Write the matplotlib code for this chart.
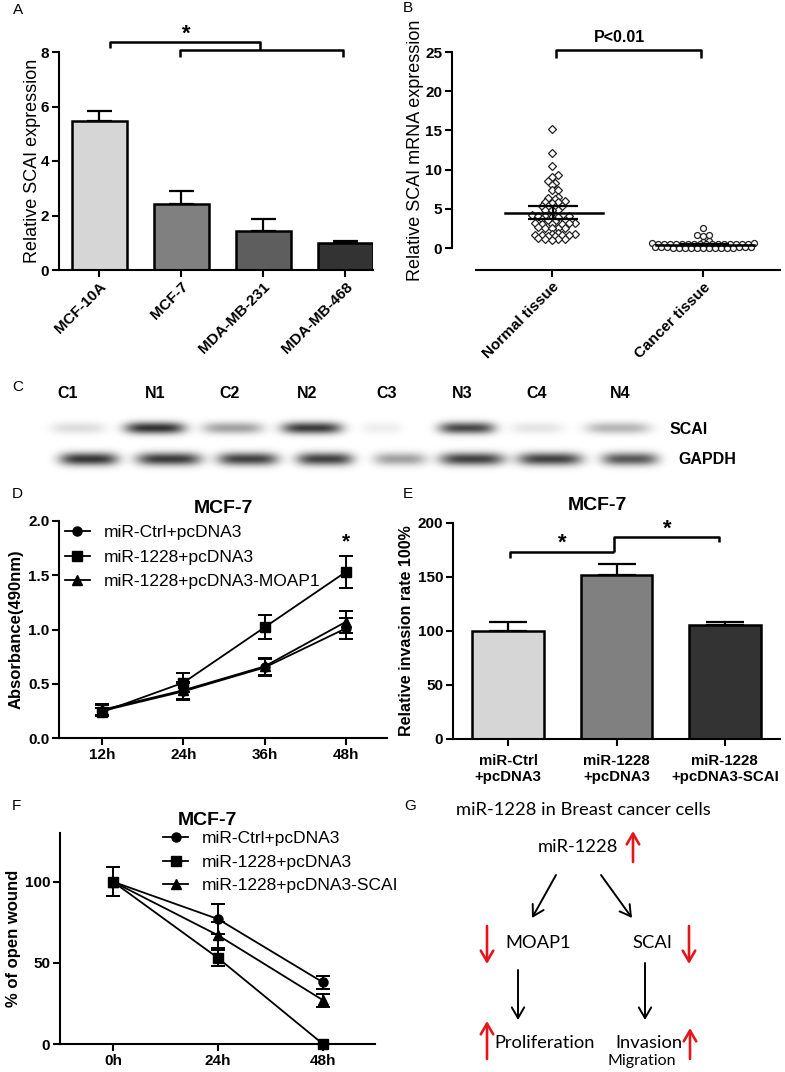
import numpy as np
import matplotlib.pyplot as plt

plt.rcParams['font.family'] = ['Liberation Sans', 'DejaVu Sans']
plt.rcParams['font.weight'] = 'bold'
plt.rcParams['axes.linewidth'] = 1.5

W, H = 785, 1072

# A: SCAI in cell lines
cell_lines = ['MCF-10A', 'MCF-7', 'MDA-MB-231', 'MDA-MB-468']
scai_expr = [5.45, 2.42, 1.43, 0.99]
scai_sem = [0.40, 0.48, 0.43, 0.06]

# B: SCAI mRNA in tissues
tissues = ['Normal tissue', 'Cancer tissue']
normal_tissue = [15.2, 12.1, 10.5, 9.3, 9.1, 8.5, 8.3, 8.0, 7.4, 7.4,
                 6.5, 6.4, 6.2, 6.0, 5.9, 5.9, 5.8, 5.4, 5.3, 5.3,
                 5.2, 4.9, 4.9, 4.8, 4.2, 4.1, 4.1, 4.1, 4.0, 4.0,
                 3.7, 3.6, 3.6, 3.5, 3.2, 3.2, 3.2, 3.1, 3.1, 3.1,
                 2.7, 2.6, 2.6, 2.6, 2.5, 1.9, 1.8, 1.8, 1.6, 1.6,
                 1.6, 1.6, 1.5, 1.5, 1.3, 1.2, 1.2, 1.1, 1.0]
cancer_tissue = [2.6, 1.6, 1.6, 1.5, 0.9, 0.8, 0.7, 0.6,
                 0.5, 0.5, 0.5, 0.5, 0.5, 0.45, 0.45, 0.45, 0.45, 0.45,
                 0.45, 0.45, 0.45, 0.45, 0.45, 0.45,
                 0.1, 0.1, 0.1, 0.1, 0.1, 0.1, 0.05, 0.05, 0.05, 0.05,
                 0.05, 0.05, 0.05, 0.0, 0.0, 0.0, 0.0]
tissue_mean = [4.5, 0.4]
tissue_sem = [0.8, 0.06]

# C: western blot band intensities
blot_lanes = ['C1', 'N1', 'C2', 'N2', 'C3', 'N3', 'C4', 'N4']
scai_band = [0.15, 0.92, 0.42, 0.88, 0.08, 0.82, 0.12, 0.33]
gapdh_band = [0.9, 0.88, 0.85, 0.85, 0.42, 0.85, 0.85, 0.75]

# D: proliferation (MTT)
d_hours = [12, 24, 36, 48]
d_ctrl = [0.25, 0.43, 0.65, 1.01]
d_ctrl_err = [0.05, 0.08, 0.08, 0.10]
d_mir = [0.24, 0.51, 1.02, 1.53]
d_mir_err = [0.04, 0.09, 0.11, 0.15]
d_moap = [0.26, 0.44, 0.66, 1.07]
d_moap_err = [0.05, 0.08, 0.08, 0.10]

# E: invasion
e_groups = ['miR-Ctrl\n+pcDNA3', 'miR-1228\n+pcDNA3', 'miR-1228\n+pcDNA3-SCAI']
e_vals = [100, 152, 106]
e_err = [8, 10, 2.5]

# F: wound healing
f_hours = [0, 24, 48]
f_ctrl = [100, 77, 38]
f_ctrl_err = [9, 9, 4]
f_mir = [100, 53, 0]
f_mir_err = [9, 5, 0]
f_scai = [100, 67, 27]
f_scai_err = [9, 8, 4]

fig = plt.figure(figsize=(W / 100, H / 100), dpi=100)


def px_axes(x0, y0, x1, y1):
    return fig.add_axes([x0 / W, 1 - y1 / H, (x1 - x0) / W, (y1 - y0) / H])


def prism(ax):
    ax.spines['top'].set_visible(False)
    ax.spines['right'].set_visible(False)
    ax.tick_params(width=1.5, length=5, labelsize=11, pad=2)


def swarm(vals, px_per_unit, d):
    # beeswarm on a half-step grid, staggered rows like GraphPad
    order = np.argsort(vals)
    placed = []
    offs = np.zeros(len(vals))
    cands = [0.0]
    for k in range(1, 60):
        cands += [k * d / 2, -k * d / 2]
    for i in order:
        y = vals[i] * px_per_unit
        for c in cands:
            if all((c - px) ** 2 + (y - py) ** 2 >= (0.6 * d) ** 2 for px, py in placed):
                offs[i] = c
                placed.append((c, y))
                break
    return offs


def bracket(ax, x0, x1, y, y0, y1, lw=1.8):
    ax.plot([x0, x0, x1, x1], [y0, y, y, y1], color='k', lw=lw, clip_on=False,
            solid_capstyle='butt')


# ---- A
axA = px_axes(59, 52, 373, 270)
xa = np.arange(len(cell_lines))
axA.bar(xa, scai_expr, width=0.67, color=['#d6d6d6', '#808080', '#5e5e5e', '#333333'],
        edgecolor='k', linewidth=1.8, zorder=2)
axA.errorbar(xa, scai_expr, yerr=[np.zeros(4), scai_sem], fmt='none', ecolor='k',
             elinewidth=1.6, capsize=9, capthick=1.6, zorder=1)
axA.set_xlim(-0.49, 3.34)
axA.set_ylim(0, 8)
axA.set_yticks([0, 2, 4, 6, 8])
prism(axA)
axA.set_xticks(xa)
axA.set_xticklabels(cell_lines, rotation=45, ha='right', rotation_mode='anchor')
axA.set_ylabel('Relative SCAI expression', fontsize=13, fontweight='normal', labelpad=0)
bracket(axA, 0.13, 1.96, 8.37, 8.15, 8.07)
bracket(axA, 0.98, 2.98, 8.07, 7.82, 7.82)
axA.text(1.06, 8.45, '*', ha='center', va='baseline', fontsize=16, clip_on=False)

# ---- B
axB = px_axes(452, 52, 780, 248)
xn = swarm(normal_tissue, 7.84, 6.7) / 151
xc = swarm(cancer_tissue, 7.84, 6.0) / 151
axB.plot(0 + xn, normal_tissue, 'D', ms=4.3, mfc='white', mec='#222222', mew=0.9,
         clip_on=False)
axB.plot(1 + xc, cancer_tissue, 'o', ms=4.3, mfc='white', mec='#222222', mew=0.9,
         clip_on=False)
for i in range(2):
    axB.plot([i - 0.31, i + 0.34], [tissue_mean[i]] * 2, color='k', lw=1.8)
    axB.errorbar([i + 0.01], [tissue_mean[i]], yerr=[tissue_sem[i]], fmt='none',
                 ecolor='k', elinewidth=1.6, capsize=18, capthick=1.6)
axB.set_xlim(-0.66, 1.51)
axB.set_ylim(0, 25)
axB.set_yticks([0, 5, 10, 15, 20, 25])
axB.spines['bottom'].set_position(('outward', 16))
axB.spines['bottom'].set_bounds(-0.5, 1.51)
prism(axB)
axB.set_xticks([0, 1])
axB.set_xticklabels(tissues, rotation=45, ha='right', rotation_mode='anchor')
axB.set_ylabel('Relative SCAI mRNA expression', fontsize=13, fontweight='normal',
               labelpad=1)
bracket(axB, 0.03, 0.99, 25.2, 24.2, 24.2)
axB.text(0.45, 26.3, 'P<0.01', ha='center', va='baseline', fontsize=11.5, clip_on=False)

# ---- D
axD = px_axes(59, 521, 387, 738)
for ys, es, mk, lab in [(d_ctrl, d_ctrl_err, 'o', 'miR-Ctrl+pcDNA3'),
                        (d_mir, d_mir_err, 's', 'miR-1228+pcDNA3'),
                        (d_moap, d_moap_err, '^', 'miR-1228+pcDNA3-MOAP1')]:
    axD.errorbar(d_hours, ys, yerr=es, fmt='none', ecolor='k', elinewidth=1.4,
                 capsize=5, capthick=1.4)
    axD.plot(d_hours, ys, color='k', lw=1.3, marker=mk, ms=6.5, label=lab)
axD.set_xlim(5.6, 54.1)
axD.set_ylim(0, 2.0)
axD.set_xticks(d_hours)
axD.set_xticklabels([f'{h}h' for h in d_hours])
axD.set_yticks([0, 0.5, 1.0, 1.5, 2.0])
axD.set_yticklabels(['0.0', '0.5', '1.0', '1.5', '2.0'])
prism(axD)
axD.set_ylabel('Absorbance(490nm)', fontsize=12, fontweight='bold', labelpad=3)
axD.set_title('MCF-7', fontsize=14, fontweight='bold', pad=6)
axD.legend(loc='upper left', bbox_to_anchor=(0.018, 0.982), frameon=False,
           prop={'weight': 'normal', 'size': 12.5}, handlelength=1.45,
           handletextpad=0.8, labelspacing=0.55, borderpad=0, borderaxespad=0)
axD.text(48, 1.76, '*', ha='center', va='baseline', fontsize=15)

# ---- E
axE = px_axes(453, 523, 780, 739)
xe = np.arange(len(e_groups))
axE.bar(xe, e_vals, width=0.66, color=['#d6d6d6', '#808080', '#333333'],
        edgecolor='k', linewidth=1.8, zorder=2)
axE.errorbar(xe, e_vals, yerr=[np.zeros(3), e_err], fmt='none', ecolor='k',
             elinewidth=1.6, capsize=14, capthick=1.6, zorder=1)
axE.set_xlim(-0.51, 2.51)
axE.set_ylim(0, 200)
axE.set_yticks([0, 50, 100, 150, 200])
prism(axE)
axE.set_xticks(xe)
axE.set_xticklabels(e_groups, fontsize=10.8, linespacing=1.15)
axE.tick_params(axis='x', pad=6)
axE.set_ylabel('Relative invasion rate 100%', fontsize=11.5, fontweight='bold', labelpad=3)
axE.set_title('MCF-7', fontsize=14, fontweight='bold', pad=9, x=0.443)
bracket(axE, 0.02, 0.98, 173, 168, 173)
bracket(axE, 0.98, 1.95, 187, 173, 182)
axE.text(0.5, 176, '*', ha='center', va='baseline', fontsize=16)
axE.text(1.47, 189, '*', ha='center', va='baseline', fontsize=16)

# ---- F
axF = px_axes(60, 833, 375, 1044)
for ys, es, mk, lab in [(f_ctrl, f_ctrl_err, 'o', 'miR-Ctrl+pcDNA3'),
                        (f_mir, f_mir_err, 's', 'miR-1228+pcDNA3'),
                        (f_scai, f_scai_err, '^', 'miR-1228+pcDNA3-SCAI')]:
    axF.errorbar(f_hours, ys, yerr=es, fmt='none', ecolor='k', elinewidth=1.4,
                 capsize=5, capthick=1.4, clip_on=False)
    axF.plot(f_hours, ys, color='k', lw=1.3, marker=mk, ms=6.5, label=lab, clip_on=False)
axF.set_xlim(-12.1, 59.9)
axF.set_ylim(0, 130)
axF.set_xticks(f_hours)
axF.set_xticklabels([f'{h}h' for h in f_hours])
axF.set_yticks([0, 50, 100])
prism(axF)
axF.set_ylabel('% of open wound', fontsize=12, fontweight='bold', labelpad=3)
axF.set_title('MCF-7', fontsize=14, fontweight='bold', pad=6, x=0.467)
axF.legend(loc='upper left', bbox_to_anchor=(0.327, 1.011), frameon=False,
           prop={'weight': 'normal', 'size': 12.5}, handlelength=1.45,
           handletextpad=0.8, labelspacing=0.5, borderpad=0, borderaxespad=0)

# ---- overlay: panel letters, blot (C) and scheme (G) in pixel coords
ov = fig.add_axes([0, 0, 1, 1])
ov.set_axis_off()

scai_x = [78, 155, 233, 312, 382, 467, 537, 618]
scai_w = [27, 30, 30, 30, 20, 28, 26, 32]
gapdh_x = [89, 169, 248, 325, 400, 472, 550, 630]
gapdh_w = [29, 32, 30, 28, 26, 32, 32, 28]
gx, gy = np.meshgrid(np.arange(40, 680) + 0.5, np.arange(405, 480) + 0.5)
blot = np.zeros_like(gx)
for cx, w, v in zip(scai_x, scai_w, scai_band):
    blot += v * np.exp(-np.abs((gx - cx) / w) ** 4) * np.exp(-((gy - 428) / 6.0) ** 2)
for cx, w, v in zip(gapdh_x, gapdh_w, gapdh_band):
    blot += v * np.exp(-np.abs((gx - cx) / w) ** 4) * np.exp(-((gy - 459) / 6.5) ** 2)
ov.imshow(np.clip(blot, 0, 1) * 0.87, cmap='gray_r', vmin=0, vmax=1,
          extent=(40, 680, 480, 405), origin='upper', aspect='auto',
          interpolation='bilinear')
label_x = [68, 155, 230, 307, 387, 462, 537, 620]
for lx, lab in zip(label_x, blot_lanes):
    ov.text(lx, 394, lab, ha='center', va='center', fontsize=11.5)
ov.text(670, 429, 'SCAI', ha='left', va='center', fontsize=11.5)
ov.text(678, 460, 'GAPDH', ha='left', va='center', fontsize=11.5)

for lx, ly, lab in [(18, 10, 'A'), (408, 8, 'B'), (18, 387, 'C'), (17, 494, 'D'),
                    (408, 494, 'E'), (16, 806, 'F'), (410, 806, 'G')]:
    ov.text(lx, ly, lab, ha='center', va='center', fontsize=11, fontweight='normal')

gfont = dict(family=['Lato', 'DejaVu Sans'], fontweight='normal', ha='center', va='center')
ov.text(583, 810, 'miR-1228 in Breast cancer cells', fontsize=13.2, **gfont)
ov.text(578, 847, 'miR-1228', fontsize=13.2, **gfont)
ov.text(538, 943, 'MOAP1', fontsize=13.2, **gfont)
ov.text(652, 943, 'SCAI', fontsize=13.2, **gfont)
ov.text(545, 1043, 'Proliferation', fontsize=13.2, **gfont)
ov.text(649, 1043, 'Invasion', fontsize=13.2, **gfont)
ov.text(642, 1061, 'Migration', fontsize=11.5, **gfont)

blk = dict(arrowstyle='->,head_length=0.55,head_width=0.32', color='k', lw=1.4,
           mutation_scale=14, shrinkA=0, shrinkB=0)
red = dict(arrowstyle='->,head_length=0.55,head_width=0.32', color='#e3161c', lw=1.9,
           mutation_scale=14, shrinkA=0, shrinkB=0)
for (x0, y0), (x1, y1), st in [((556, 875), (532, 918), blk), ((601, 875), (632, 918), blk),
                               ((518, 970), (518, 1020), blk), ((645, 963), (645, 1020), blk),
                               ((633, 862), (633, 831), red), ((487, 926), (487, 964), red),
                               ((689, 926), (689, 964), red), ((487, 1059), (487, 1021), red),
                               ((690, 1059), (690, 1028), red)]:
    ov.annotate('', xy=(x1, y1), xytext=(x0, y0), arrowprops=st)

ov.set_xlim(0, W)
ov.set_ylim(H, 0)

fig.savefig('out.png', dpi=100)
